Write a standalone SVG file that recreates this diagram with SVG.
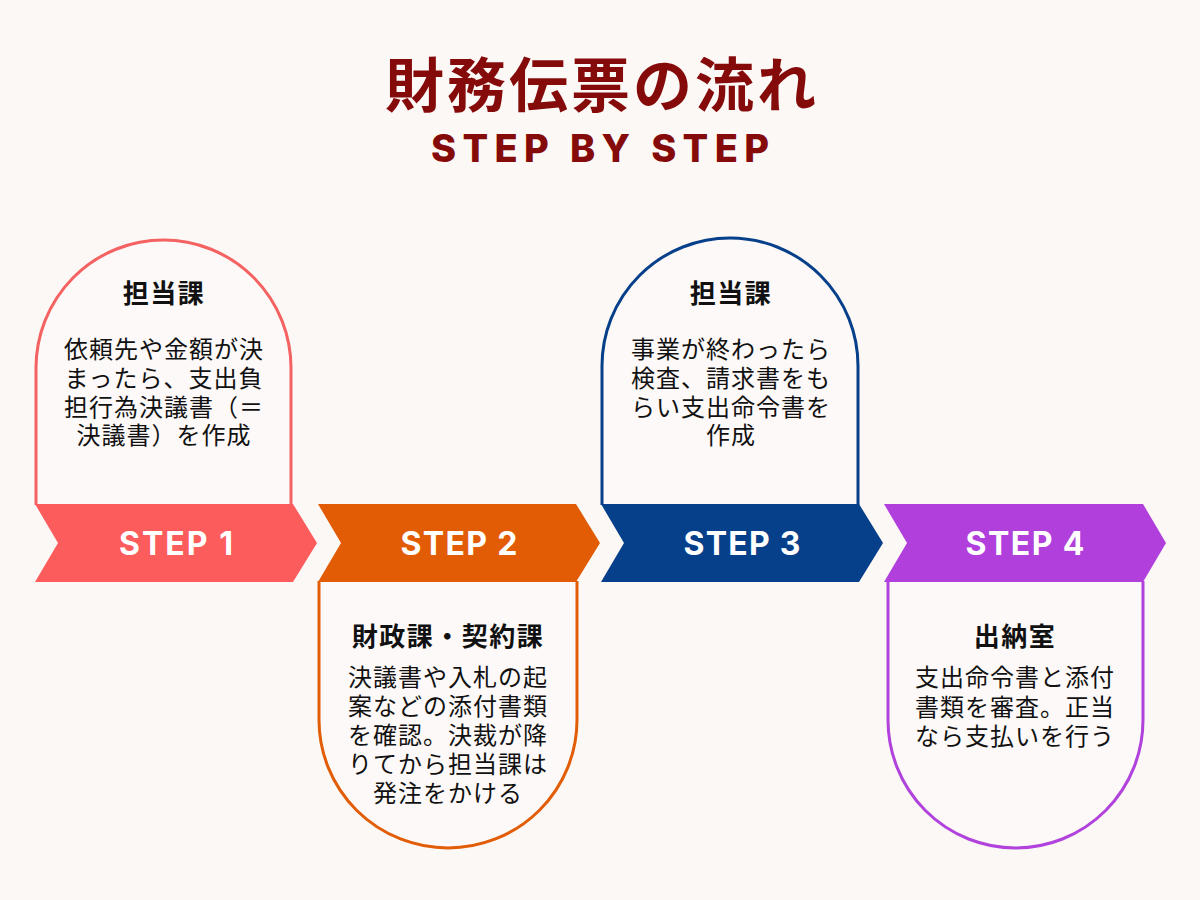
<svg xmlns="http://www.w3.org/2000/svg" width="1200" height="900" viewBox="0 0 1200 900">
  <style>
    .bg { fill: #fcf8f6; }
    .card { fill: #fdf9f8; stroke-width: 3; }
    .head { font-family: "Noto Sans CJK JP", "Noto Sans", sans-serif; font-weight: 700; font-size: 26px; fill: #111; text-anchor: middle; letter-spacing: 1.5px; }
    .body { font-family: "Noto Sans CJK JP", "Noto Sans", sans-serif; font-weight: 400; font-size: 24px; fill: #111; text-anchor: middle; letter-spacing: 1px; }
    .step { font-family: Inter, "Liberation Sans", sans-serif; font-weight: 700; font-size: 32px; fill: #ffffff; text-anchor: middle; }
    .title { font-family: "Noto Sans CJK JP", sans-serif; font-weight: 700; font-size: 59px; fill: #850a0a; text-anchor: middle; letter-spacing: 3px; }
    .sub { font-family: Inter, "Liberation Sans", sans-serif; font-weight: 800; font-size: 38px; fill: #850a0a; text-anchor: middle; }
  </style>
  <rect class="bg" x="0" y="0" width="1200" height="900"/>

  <g id="title">
    <text class="title" x="602" y="107">財務伝票の流れ</text>
    <text class="sub" x="600" y="162" textLength="338" lengthAdjust="spacing">STEP BY STEP</text>
  </g>

  <g id="step1">
    <path class="card" stroke="#f46262" d="M36,505 V368 A127.5,128 0 0 1 291,368 V505"/>
    <polygon fill="#fd5c5c" points="35,504 293,504 317,543 293,582 35,582 58,543"/>
    <text class="step" x="176" y="555" textLength="114" lengthAdjust="spacing">STEP 1</text>
    <text class="head" x="164" y="303">担当課</text>
    <text class="body" x="164" y="358">依頼先や金額が決</text>
    <text class="body" x="164" y="387">まったら、支出負</text>
    <text class="body" x="164" y="416">担行為決議書（＝</text>
    <text class="body" x="164" y="444">決議書）を作成</text>
  </g>

  <g id="step2">
    <path class="card" stroke="#e25d07" d="M319,581 V720 A129,128 0 0 0 577,720 V581"/>
    <polygon fill="#e25c06" points="318,504 576,504 600,543 576,582 318,582 341,543"/>
    <text class="step" x="459" y="555" textLength="117" lengthAdjust="spacing">STEP 2</text>
    <text class="head" x="448" y="646">財政課・契約課</text>
    <text class="body" x="448" y="686">決議書や入札の起</text>
    <text class="body" x="448" y="715">案などの添付書類</text>
    <text class="body" x="448" y="744">を確認。決裁が降</text>
    <text class="body" x="448" y="773">りてから担当課は</text>
    <text class="body" x="448" y="802">発注をかける</text>
  </g>

  <g id="step3">
    <path class="card" stroke="#063f8a" d="M602,505 V366 A128,128 0 0 1 858,366 V505"/>
    <polygon fill="#063f8a" points="601,504 859,504 883,543 859,582 601,582 624,543"/>
    <text class="step" x="742" y="555" textLength="117" lengthAdjust="spacing">STEP 3</text>
    <text class="head" x="731" y="303">担当課</text>
    <text class="body" x="731" y="358">事業が終わったら</text>
    <text class="body" x="731" y="387">検査、請求書をも</text>
    <text class="body" x="731" y="416">らい支出命令書を</text>
    <text class="body" x="731" y="444">作成</text>
  </g>

  <g id="step4">
    <path class="card" stroke="#b142dc" d="M888,581 V720 A127.5,128 0 0 0 1143,720 V581"/>
    <polygon fill="#b03fdc" points="884,504 1143,504 1166,543 1143,582 884,582 907,543"/>
    <text class="step" x="1025" y="555" textLength="119" lengthAdjust="spacing">STEP 4</text>
    <text class="head" x="1015" y="646">出納室</text>
    <text class="body" x="1015" y="686">支出命令書と添付</text>
    <text class="body" x="1015" y="716">書類を審査。正当</text>
    <text class="body" x="1015" y="745">なら支払いを行う</text>
  </g>

  <g id="connectors"/>
</svg>
